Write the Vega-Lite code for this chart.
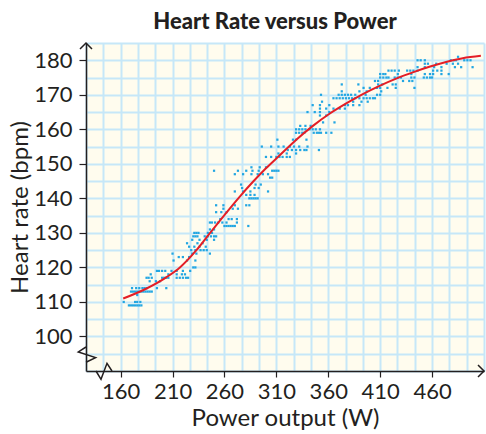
{
  "$schema": "https://vega.github.io/schema/vega-lite/v6.json",
  "width": 398,
  "height": 328,
  "autosize": {"type": "none"},
  "padding": {"left": 86, "top": 43, "right": 2, "bottom": 63},
  "background": "white",
  "config": {"view": {"fill": "#fffcee", "stroke": null}, "font": "Lato"},
  "title": {"text": "Heart Rate versus Power", "font": "Lato", "fontSize": 22, "fontWeight": 900, "color": "#231f20", "frame": "group", "anchor": "middle", "dx": -10, "baseline": "alphabetic", "offset": 13, "dy": 31.5},
  "datasets": {
    "pts": [
      {"power":168,"hr":109},{"power":170,"hr":109},{"power":172,"hr":109},{"power":174,"hr":109},{"power":176,"hr":109},{"power":178,"hr":109},{"power":180,"hr":109},
      {"power":163,"hr":110},{"power":174,"hr":110},{"power":176,"hr":110},{"power":179,"hr":110},
      {"power":176,"hr":112},
      {"power":170,"hr":113},{"power":172,"hr":113},{"power":174,"hr":113},{"power":176,"hr":113},{"power":178,"hr":113},{"power":180,"hr":113},{"power":182,"hr":113},{"power":184,"hr":113},{"power":186,"hr":113},{"power":188,"hr":113},{"power":190,"hr":113},
      {"power":171,"hr":114},{"power":175,"hr":114},{"power":178,"hr":114},{"power":181,"hr":114},{"power":183,"hr":114},{"power":185,"hr":114},{"power":195,"hr":114},{"power":204,"hr":114},
      {"power":188,"hr":116},{"power":194,"hr":116},{"power":198,"hr":116},
      {"power":185,"hr":117},{"power":187,"hr":117},{"power":190,"hr":117},{"power":200,"hr":117},{"power":202,"hr":117},{"power":204,"hr":117},{"power":206,"hr":117},{"power":214,"hr":117},{"power":217,"hr":117},{"power":220,"hr":117},{"power":223,"hr":117},{"power":225,"hr":117},
      {"power":189,"hr":118},{"power":206,"hr":118},{"power":214,"hr":118},{"power":219,"hr":118},{"power":222,"hr":118},
      {"power":195,"hr":119},{"power":197,"hr":119},{"power":200,"hr":119},{"power":203,"hr":119},{"power":209,"hr":119},{"power":214,"hr":119},{"power":220,"hr":119},{"power":227,"hr":119},
      {"power":230,"hr":120},{"power":232,"hr":120},
      {"power":211,"hr":122},{"power":224,"hr":122},{"power":232,"hr":122},
      {"power":216,"hr":123},{"power":220,"hr":123},{"power":226,"hr":123},
      {"power":210,"hr":124},{"power":229,"hr":124},{"power":233,"hr":124},{"power":246,"hr":124},
      {"power":228,"hr":125},{"power":232,"hr":125},{"power":237,"hr":125},{"power":240,"hr":125},{"power":243,"hr":125},
      {"power":226,"hr":126},{"power":231,"hr":126},{"power":236,"hr":126},{"power":242,"hr":126},
      {"power":224,"hr":127},{"power":234,"hr":127},{"power":239,"hr":127},
      {"power":229,"hr":128},{"power":236,"hr":128},{"power":243,"hr":128},{"power":250,"hr":128},
      {"power":230,"hr":129},{"power":232,"hr":129},{"power":234,"hr":129},{"power":241,"hr":129},{"power":244,"hr":129},{"power":247,"hr":129},{"power":250,"hr":129},{"power":252,"hr":129},
      {"power":231,"hr":130},{"power":233,"hr":130},{"power":235,"hr":130},{"power":244,"hr":130},{"power":248,"hr":130},
      {"power":246,"hr":131},{"power":250,"hr":131},
      {"power":260,"hr":132},{"power":262,"hr":132},{"power":264,"hr":132},{"power":266,"hr":132},{"power":268,"hr":132},{"power":270,"hr":132},{"power":283,"hr":132},
      {"power":246,"hr":133},{"power":248,"hr":133},{"power":251,"hr":133},{"power":254,"hr":133},{"power":258,"hr":133},{"power":262,"hr":133},{"power":272,"hr":133},
      {"power":256,"hr":134},{"power":264,"hr":134},{"power":267,"hr":134},{"power":272,"hr":134},
      {"power":252,"hr":136},{"power":257,"hr":136},{"power":262,"hr":136},
      {"power":259,"hr":137},{"power":268,"hr":137},{"power":273,"hr":137},
      {"power":252,"hr":138},{"power":259,"hr":138},{"power":270,"hr":138},{"power":281,"hr":138},{"power":284,"hr":138},
      {"power":284,"hr":140},{"power":286,"hr":140},{"power":288,"hr":140},{"power":290,"hr":140},{"power":292,"hr":140},
      {"power":281,"hr":141},{"power":285,"hr":141},{"power":289,"hr":141},
      {"power":270,"hr":142},{"power":278,"hr":142},{"power":285,"hr":142},{"power":302,"hr":142},
      {"power":277,"hr":143},{"power":289,"hr":143},{"power":293,"hr":143},
      {"power":276,"hr":144},{"power":290,"hr":144},{"power":295,"hr":144},
      {"power":304,"hr":146},{"power":306,"hr":146},
      {"power":270,"hr":147},{"power":278,"hr":147},{"power":286,"hr":147},{"power":292,"hr":147},{"power":297,"hr":147},{"power":302,"hr":147},
      {"power":250,"hr":148},{"power":273,"hr":148},{"power":281,"hr":148},{"power":287,"hr":148},{"power":293,"hr":148},{"power":306,"hr":148},{"power":308,"hr":148},{"power":310,"hr":148},{"power":312,"hr":148},
      {"power":286,"hr":149},{"power":294,"hr":149},{"power":300,"hr":149},
      {"power":300,"hr":152},{"power":305,"hr":152},{"power":310,"hr":152},{"power":313,"hr":152},{"power":316,"hr":152},{"power":320,"hr":152},{"power":323,"hr":152},
      {"power":312,"hr":153},{"power":320,"hr":153},{"power":329,"hr":153},
      {"power":321,"hr":154},{"power":325,"hr":154},{"power":329,"hr":154},{"power":333,"hr":154},{"power":337,"hr":154},{"power":339,"hr":154},{"power":351,"hr":154},
      {"power":296,"hr":155},{"power":305,"hr":155},{"power":312,"hr":155},{"power":317,"hr":155},{"power":323,"hr":155},{"power":327,"hr":155},{"power":332,"hr":155},{"power":340,"hr":155},
      {"power":311,"hr":157},{"power":326,"hr":157},{"power":329,"hr":157},{"power":339,"hr":157},
      {"power":329,"hr":159},{"power":332,"hr":159},{"power":335,"hr":159},{"power":337,"hr":159},{"power":346,"hr":159},{"power":349,"hr":159},{"power":351,"hr":159},{"power":353,"hr":159},{"power":358,"hr":159},{"power":363,"hr":159},
      {"power":329,"hr":160},{"power":332,"hr":160},{"power":335,"hr":160},{"power":338,"hr":160},{"power":342,"hr":160},{"power":345,"hr":160},{"power":348,"hr":160},{"power":352,"hr":160},
      {"power":333,"hr":161},{"power":338,"hr":161},{"power":343,"hr":161},
      {"power":355,"hr":162},{"power":366,"hr":162},
      {"power":352,"hr":164},{"power":358,"hr":164},
      {"power":340,"hr":165},{"power":347,"hr":165},{"power":352,"hr":165},{"power":361,"hr":165},
      {"power":352,"hr":166},{"power":358,"hr":166},{"power":365,"hr":166},{"power":371,"hr":166},{"power":376,"hr":166},
      {"power":345,"hr":167},{"power":352,"hr":167},{"power":361,"hr":167},{"power":376,"hr":167},{"power":379,"hr":167},{"power":384,"hr":167},{"power":390,"hr":167},
      {"power":354,"hr":168},{"power":384,"hr":168},{"power":392,"hr":168},{"power":398,"hr":168},
      {"power":365,"hr":169},{"power":368,"hr":169},{"power":371,"hr":169},{"power":374,"hr":169},{"power":377,"hr":169},{"power":380,"hr":169},{"power":383,"hr":169},{"power":386,"hr":169},{"power":390,"hr":169},{"power":394,"hr":169},{"power":397,"hr":169},{"power":400,"hr":169},{"power":403,"hr":169},{"power":405,"hr":169},
      {"power":353,"hr":170},{"power":370,"hr":170},{"power":373,"hr":170},{"power":376,"hr":170},{"power":379,"hr":170},{"power":382,"hr":170},{"power":386,"hr":170},{"power":396,"hr":170},{"power":407,"hr":170},{"power":410,"hr":170},
      {"power":373,"hr":171},{"power":390,"hr":171},{"power":397,"hr":171},{"power":411,"hr":171},
      {"power":394,"hr":172},{"power":400,"hr":172},{"power":407,"hr":172},{"power":410,"hr":172},{"power":417,"hr":172},{"power":425,"hr":172},{"power":443,"hr":172},
      {"power":373,"hr":173},{"power":389,"hr":173},{"power":408,"hr":173},{"power":412,"hr":173},{"power":422,"hr":173},{"power":425,"hr":173},
      {"power":405,"hr":174},{"power":408,"hr":174},{"power":432,"hr":174},{"power":438,"hr":174},{"power":441,"hr":174},
      {"power":410,"hr":175},{"power":413,"hr":175},{"power":416,"hr":175},{"power":418,"hr":175},{"power":424,"hr":175},{"power":427,"hr":175},{"power":430,"hr":175},{"power":440,"hr":175},{"power":443,"hr":175},{"power":452,"hr":175},{"power":455,"hr":175},{"power":458,"hr":175},{"power":460,"hr":175},
      {"power":410,"hr":176},{"power":413,"hr":176},{"power":415,"hr":176},{"power":427,"hr":176},{"power":440,"hr":176},{"power":453,"hr":176},{"power":458,"hr":176},{"power":461,"hr":176},{"power":469,"hr":176},{"power":476,"hr":176},
      {"power":418,"hr":177},{"power":421,"hr":177},{"power":424,"hr":177},{"power":428,"hr":177},{"power":436,"hr":177},{"power":439,"hr":177},{"power":442,"hr":177},{"power":446,"hr":177},{"power":461,"hr":177},{"power":465,"hr":177},{"power":469,"hr":177},
      {"power":446,"hr":178},{"power":453,"hr":178},{"power":462,"hr":178},{"power":469,"hr":178},{"power":482,"hr":178},{"power":488,"hr":178},{"power":499,"hr":178},
      {"power":453,"hr":179},{"power":456,"hr":179},{"power":464,"hr":179},{"power":474,"hr":179},{"power":480,"hr":179},{"power":485,"hr":179},
      {"power":446,"hr":180},{"power":449,"hr":180},{"power":453,"hr":180},{"power":478,"hr":180},{"power":481,"hr":180},{"power":483,"hr":180},{"power":491,"hr":180},{"power":494,"hr":180},{"power":497,"hr":180},
      {"power":485,"hr":181}
    ],
    "fit": [
      {"power":162.5,"hr":111.0},{"power":185,"hr":113.9},{"power":204.3,"hr":117.2},{"power":217.1,"hr":120.0},{"power":233,"hr":125.0},{"power":243,"hr":128.8},{"power":259,"hr":134.8},{"power":275,"hr":140.6},{"power":287.5,"hr":144.8},{"power":300,"hr":148.7},{"power":313,"hr":152.4},{"power":329.2,"hr":157.0},{"power":345.2,"hr":161.0},{"power":361.2,"hr":164.5},{"power":377.3,"hr":167.5},{"power":393.3,"hr":170.2},{"power":409.4,"hr":172.6},{"power":425.4,"hr":174.7},{"power":441.4,"hr":176.5},{"power":457.4,"hr":178.1},{"power":473.5,"hr":179.5},{"power":489.5,"hr":180.6},{"power":507,"hr":181.3}
    ],
    "yarrow": [{"power":126.667,"hr":185}],
    "xarrow": [{"power":510,"hr":90}],
    "ybreak": [{"power":126.667,"hr":94.75}],
    "xbreak": [{"power":144,"hr":90}]
  },
  "encoding": {
    "x": {"field": "power", "type": "quantitative"},
    "y": {"field": "hr", "type": "quantitative"}
  },
  "layer": [
    {
      "data": {"name": "pts"},
      "mark": {"type": "square", "size": 5, "filled": true, "color": "#22a6e2", "opacity": 1},
      "encoding": {
        "x": {
          "field": "power", "type": "quantitative",
          "scale": {"domain": [126.667, 510], "nice": false, "zero": false},
          "axis": {
            "title": "Power output (W)",
            "values": [126.667,143.333,160,176.667,193.333,210,226.667,243.333,260,276.667,293.333,310,326.667,343.333,360,376.667,393.333,410,426.667,443.333,460,476.667,493.333,510],
            "tickCount": 1000,
            "format": ".0f",
            "grid": true, "gridColor": "#c6e7f8", "gridWidth": 2, "gridOpacity": 1,
            "domainColor": "#231f20", "domainWidth": 1.5,
            "tickColor": "#231f20", "tickWidth": 1.2, "tickSize": 6,
            "tickOpacity": {"condition": {"test": "datum.value % 50 == 10 && datum.value < 500", "value": 1}, "value": 0},
            "labelExpr": "datum.value % 50 == 10 && datum.value < 500 ? datum.label : ''",
            "labelFont": "Lato", "labelFontSize": 22, "labelColor": "#231f20", "labelPadding": 4,
            "labelOverlap": false, "labelFlush": false, "labelBound": false,
            "titleFont": "Lato", "titleFontSize": 24, "titleFontWeight": "normal", "titleColor": "#231f20", "titlePadding": 4
          }
        },
        "y": {
          "field": "hr", "type": "quantitative",
          "scale": {"domain": [90, 185], "nice": false, "zero": false},
          "axis": {
            "title": "Heart rate (bpm)",
            "values": [90,95,100,105,110,115,120,125,130,135,140,145,150,155,160,165,170,175,180,185],
            "tickCount": 1000,
            "format": ".0f",
            "grid": true, "gridColor": "#c6e7f8", "gridWidth": 2, "gridOpacity": 1,
            "domainColor": "#231f20", "domainWidth": 1.5,
            "tickColor": "#231f20", "tickWidth": 1.2, "tickSize": 7,
            "tickOpacity": {"condition": {"test": "datum.value % 10 == 0 && datum.value >= 100 && datum.value <= 180", "value": 1}, "value": 0},
            "labelExpr": "datum.value % 10 == 0 && datum.value >= 100 && datum.value <= 180 ? datum.label : ''",
            "labelFont": "Lato", "labelFontSize": 22, "labelColor": "#231f20", "labelPadding": 7,
            "labelOverlap": false, "labelFlush": false, "labelBound": false,
            "titleFont": "Lato", "titleFontSize": 24, "titleFontWeight": "normal", "titleColor": "#231f20", "titlePadding": 1
          }
        }
      }
    },
    {
      "data": {"name": "fit"},
      "mark": {"type": "line", "interpolate": "monotone", "color": "#e41e26", "strokeWidth": 2}
    },
    {
      "data": {"name": "yarrow"},
      "mark": {"type": "point", "shape": "M-1,1L0,0L1,1", "size": 144, "filled": false, "stroke": "#231f20", "strokeWidth": 1.5, "opacity": 1}
    },
    {
      "data": {"name": "xarrow"},
      "mark": {"type": "point", "shape": "M-1,-1L0,0L-1,1", "size": 144, "filled": false, "stroke": "#231f20", "strokeWidth": 1.5, "opacity": 1}
    },
    {
      "data": {"name": "ybreak"},
      "mark": {"type": "point", "shape": "M0,-0.95L-0.96,-0.33L1.2,0.37L0,0.96", "size": 256, "filled": false, "stroke": "#231f20", "strokeWidth": 1.5, "opacity": 1}
    },
    {
      "data": {"name": "xbreak"},
      "mark": {"type": "point", "shape": "M-1,0L-0.375,1.04L0.375,-0.96L1,0", "size": 256, "filled": false, "stroke": "#231f20", "strokeWidth": 1.5, "opacity": 1}
    }
  ]
}
